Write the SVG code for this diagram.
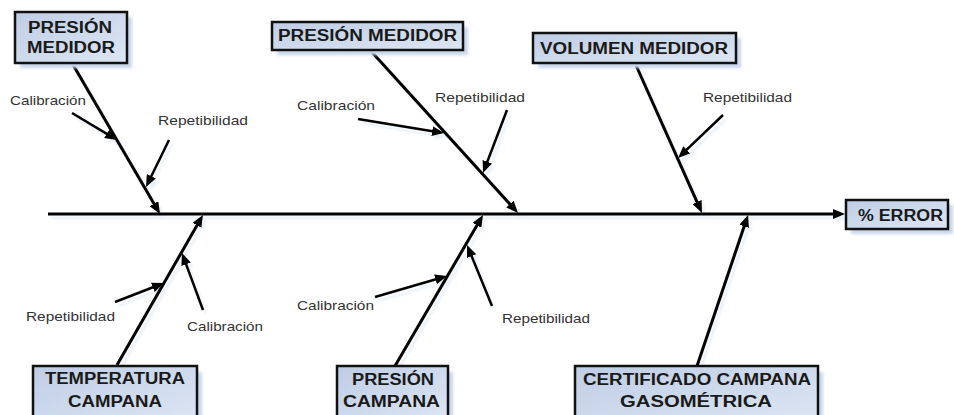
<svg xmlns="http://www.w3.org/2000/svg" xmlns:xlink="http://www.w3.org/1999/xlink" width="954" height="415" viewBox="0 0 954 415">
  <style>
    .box { fill: url(#boxFill); stroke: #111; stroke-width: 2.5; }
    .boxShadow { fill: #c9d6ea; filter: url(#soft); }
    .title { font-family: "Liberation Sans", Arial, sans-serif; font-weight: bold; font-size: 16px; fill: #1a1a1a; }
    .cause { font-family: "Liberation Sans", Arial, sans-serif; font-size: 13px; fill: #333; }
    .bone { stroke: #000; stroke-width: 3; fill: none; marker-end: url(#head); }
    .twig { stroke: #000; stroke-width: 2.5; fill: none; marker-end: url(#head); }
  </style>
  <defs>
    <linearGradient id="boxFill" x1="0" y1="0" x2="1" y2="1">
      <stop offset="0" stop-color="#bfcde5"/>
      <stop offset="1" stop-color="#dde6f3"/>
    </linearGradient>
    <filter id="soft" x="-10%" y="-10%" width="120%" height="120%">
      <feGaussianBlur stdDeviation="1.5"/>
    </filter>
    <filter id="lineShadow" x="-5%" y="-5%" width="110%" height="110%">
      <feColorMatrix type="matrix" values="0 0 0 0 0.78  0 0 0 0 0.84  0 0 0 0 0.93  0 0 0 0.8 0"/>
      <feGaussianBlur stdDeviation="0.8"/>
    </filter>
    <marker id="head" viewBox="0 0 12 10" refX="5" refY="5" markerWidth="12" markerHeight="10" markerUnits="userSpaceOnUse" orient="auto">
      <path d="M0,0 L12,5 L0,10 z" fill="#000"/>
    </marker>
  </defs>

  <rect width="954" height="415" fill="#fff"/>

  <!-- connectors: spine, main bones and cause arrows -->
  <g id="connectors">
    <use xlink:href="#bones" transform="translate(3,4)" filter="url(#lineShadow)"/>
    <g id="bones">
      <line class="bone" x1="48" y1="214" x2="838" y2="214"/>
      <line class="bone" x1="72" y1="63" x2="156.5" y2="208"/>
      <line class="bone" x1="370" y1="50" x2="513.3" y2="207.8"/>
      <line class="bone" x1="635" y1="63" x2="699.1" y2="206.6"/>
      <line class="bone" x1="117" y1="365" x2="199.5" y2="221"/>
      <line class="bone" x1="395" y1="366" x2="479.5" y2="221"/>
      <line class="bone" x1="697" y1="366" x2="745.8" y2="221.6"/>
      <line class="twig" x1="72" y1="113" x2="111" y2="136.4"/>
      <line class="twig" x1="169" y1="140" x2="149.1" y2="180.7"/>
      <line class="twig" x1="358" y1="119" x2="437.1" y2="131.9"/>
      <line class="twig" x1="507" y1="110" x2="485.5" y2="166.5"/>
      <line class="twig" x1="723" y1="115" x2="683.1" y2="153.2"/>
      <line class="twig" x1="115" y1="302" x2="157.5" y2="285.5"/>
      <line class="twig" x1="203" y1="310" x2="184.4" y2="259.6"/>
      <line class="twig" x1="375" y1="297" x2="440.3" y2="278"/>
      <line class="twig" x1="492" y1="306" x2="469.7" y2="251.5"/>
    </g>
  </g>

  <!-- cause labels -->
  <g id="causes">
    <text class="cause" x="10" y="105" textLength="76" lengthAdjust="spacingAndGlyphs">Calibración</text>
    <text class="cause" x="158" y="125" textLength="90" lengthAdjust="spacingAndGlyphs">Repetibilidad</text>
    <text class="cause" x="297" y="110" textLength="78" lengthAdjust="spacingAndGlyphs">Calibración</text>
    <text class="cause" x="435" y="102" textLength="90" lengthAdjust="spacingAndGlyphs">Repetibilidad</text>
    <text class="cause" x="703" y="102" textLength="89" lengthAdjust="spacingAndGlyphs">Repetibilidad</text>
    <text class="cause" x="26" y="321" textLength="89" lengthAdjust="spacingAndGlyphs">Repetibilidad</text>
    <text class="cause" x="187" y="331" textLength="76" lengthAdjust="spacingAndGlyphs">Calibración</text>
    <text class="cause" x="297" y="310" textLength="77" lengthAdjust="spacingAndGlyphs">Calibración</text>
    <text class="cause" x="502" y="323" textLength="88" lengthAdjust="spacingAndGlyphs">Repetibilidad</text>
  </g>

  <!-- category boxes -->
  <g id="presion-medidor-1">
    <rect class="boxShadow" x="20" y="17" width="112" height="51"/>
    <rect class="box" x="15" y="12" width="112" height="51"/>
    <text class="title" x="28" y="33" textLength="84" lengthAdjust="spacingAndGlyphs">PRESIÓN</text>
    <text class="title" x="27" y="53" textLength="88" lengthAdjust="spacingAndGlyphs">MEDIDOR</text>
  </g>

  <g id="presion-medidor-2">
    <rect class="boxShadow" x="277" y="27" width="191" height="28"/>
    <rect class="box" x="272" y="22" width="191" height="28"/>
    <text class="title" x="278" y="41" textLength="179" lengthAdjust="spacingAndGlyphs">PRESIÓN MEDIDOR</text>
  </g>

  <g id="volumen-medidor">
    <rect class="boxShadow" x="538" y="38" width="203" height="30"/>
    <rect class="box" x="533" y="33" width="203" height="30"/>
    <text class="title" x="540" y="54" textLength="188" lengthAdjust="spacingAndGlyphs">VOLUMEN MEDIDOR</text>
  </g>

  <g id="error">
    <rect class="boxShadow" x="851" y="205" width="102" height="29"/>
    <rect class="box" x="846" y="200" width="102" height="29"/>
    <text class="title" x="858" y="221" textLength="85" lengthAdjust="spacingAndGlyphs">% ERROR</text>
  </g>

  <g id="temperatura-campana">
    <rect class="boxShadow" x="38" y="372" width="164" height="60"/>
    <rect class="box" x="33" y="366" width="164" height="60"/>
    <text class="title" x="45" y="384" textLength="140" lengthAdjust="spacingAndGlyphs">TEMPERATURA</text>
    <text class="title" x="68" y="407" textLength="94" lengthAdjust="spacingAndGlyphs">CAMPANA</text>
  </g>

  <g id="presion-campana">
    <rect class="boxShadow" x="342" y="372" width="111" height="60"/>
    <rect class="box" x="337" y="366" width="111" height="60"/>
    <text class="title" x="352" y="385" textLength="82" lengthAdjust="spacingAndGlyphs">PRESIÓN</text>
    <text class="title" x="343" y="407" textLength="97" lengthAdjust="spacingAndGlyphs">CAMPANA</text>
  </g>

  <g id="certificado-campana">
    <rect class="boxShadow" x="580" y="372" width="243" height="60"/>
    <rect class="box" x="575" y="366" width="243" height="60"/>
    <text class="title" x="583" y="385" textLength="228" lengthAdjust="spacingAndGlyphs">CERTIFICADO CAMPANA</text>
    <text class="title" x="620" y="407" textLength="152" lengthAdjust="spacingAndGlyphs">GASOMÉTRICA</text>
  </g>
</svg>
